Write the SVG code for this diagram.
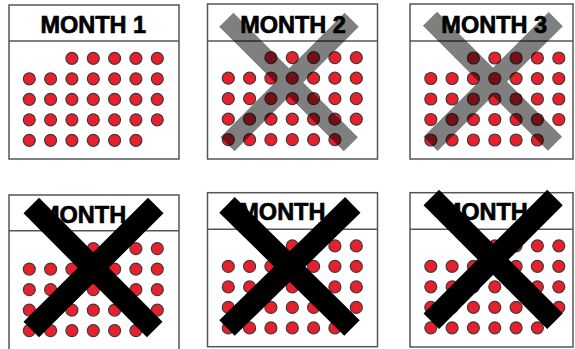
<svg xmlns="http://www.w3.org/2000/svg" xmlns:xlink="http://www.w3.org/1999/xlink" width="575" height="349" viewBox="0 0 575 349">
<style>
.box{fill:#fff;stroke:#555;stroke-width:1.5}
.hdr{stroke:#555;stroke-width:1.5;fill:none}
.ttl{font-family:"Liberation Sans",Arial,sans-serif;font-weight:bold;font-size:23.5px;fill:#000;stroke:#000;stroke-width:0.7}
.dot{fill:#e8202d;stroke:#3c3c3c;stroke-width:1.2}
.xg{stroke:#000;stroke-opacity:0.5;stroke-width:20;fill:none;stroke-linecap:butt}
.xb{stroke:#000;stroke-width:22;fill:none;stroke-linecap:butt}
</style>
<defs>
<g id="grid">
<circle class="dot" cx="42.6" cy="0" r="6"/><circle class="dot" cx="64" cy="0" r="6"/><circle class="dot" cx="85.3" cy="0" r="6"/><circle class="dot" cx="106.6" cy="0" r="6"/><circle class="dot" cx="128" cy="0" r="6"/>
<circle class="dot" cx="0" cy="20.5" r="6"/><circle class="dot" cx="21.3" cy="20.5" r="6"/><circle class="dot" cx="42.6" cy="20.5" r="6"/><circle class="dot" cx="64" cy="20.5" r="6"/><circle class="dot" cx="85.3" cy="20.5" r="6"/><circle class="dot" cx="106.6" cy="20.5" r="6"/><circle class="dot" cx="128" cy="20.5" r="6"/>
<circle class="dot" cx="0" cy="41" r="6"/><circle class="dot" cx="21.3" cy="41" r="6"/><circle class="dot" cx="42.6" cy="41" r="6"/><circle class="dot" cx="64" cy="41" r="6"/><circle class="dot" cx="85.3" cy="41" r="6"/><circle class="dot" cx="106.6" cy="41" r="6"/><circle class="dot" cx="128" cy="41" r="6"/>
<circle class="dot" cx="0" cy="61.5" r="6"/><circle class="dot" cx="21.3" cy="61.5" r="6"/><circle class="dot" cx="42.6" cy="61.5" r="6"/><circle class="dot" cx="64" cy="61.5" r="6"/><circle class="dot" cx="85.3" cy="61.5" r="6"/><circle class="dot" cx="106.6" cy="61.5" r="6"/><circle class="dot" cx="128" cy="61.5" r="6"/>
<circle class="dot" cx="0" cy="82" r="6"/><circle class="dot" cx="21.3" cy="82" r="6"/><circle class="dot" cx="42.6" cy="82" r="6"/><circle class="dot" cx="64" cy="82" r="6"/><circle class="dot" cx="85.3" cy="82" r="6"/><circle class="dot" cx="106.6" cy="82" r="6"/>
</g>
</defs>
<rect width="575" height="349" fill="#fff"/>
<g id="month1">
<rect class="box" x="9" y="5" width="170" height="154"/>
<line class="hdr" x1="9" y1="41" x2="179" y2="41"/>
<text class="ttl" x="93.3" y="33.3" text-anchor="middle">MONTH 1</text>
<use xlink:href="#grid" transform="translate(29.3,58.3)"/>
</g>
<g id="month2">
<rect class="box" x="207.5" y="4" width="170" height="155"/>
<line class="hdr" x1="207.5" y1="41" x2="377.5" y2="41"/>
<text class="ttl" x="293" y="33.3" text-anchor="middle">MONTH 2</text>
<use xlink:href="#grid" transform="translate(228.3,57.7)"/>
<path class="xg" d="M226.3,19.7 L350.8,144.2 M351.7,19.7 L227.5,144.2"/>
</g>
<g id="month3">
<rect class="box" x="410" y="4" width="163" height="155"/>
<line class="hdr" x1="410" y1="41" x2="573" y2="41"/>
<text class="ttl" x="494.2" y="33.3" text-anchor="middle">MONTH 3</text>
<use xlink:href="#grid" transform="translate(430.8,58)"/>
<path class="xg" d="M430,18.8 L555,143.8 M555.8,19.2 L430.5,143.8"/>
</g>
<g id="month4">
<rect class="box" x="9" y="195" width="170" height="170"/>
<line class="hdr" x1="9" y1="230.7" x2="179" y2="230.7"/>
<text class="ttl" x="40" y="222.7">MONTH</text>
<use xlink:href="#grid" transform="translate(29.3,248.6)"/>
<path class="xb" d="M31.3,205.5 L154.7,329.5 M155.8,205.5 L31.3,329.5"/>
</g>
<g id="month5">
<rect class="box" x="207.5" y="192.7" width="170" height="154"/>
<line class="hdr" x1="207.5" y1="229.3" x2="377.5" y2="229.3"/>
<text class="ttl" x="239.3" y="219.5">MONTH</text>
<use xlink:href="#grid" transform="translate(228.3,245.9)"/>
<path class="xb" d="M227,204.8 L352,328 M352.8,204.8 L227,328"/>
</g>
<g id="month6">
<rect class="box" x="410" y="192.7" width="163" height="154.3"/>
<line class="hdr" x1="410" y1="229.3" x2="573" y2="229.3"/>
<text class="ttl" x="441.7" y="220">MONTH</text>
<use xlink:href="#grid" transform="translate(430.8,245.8)"/>
<path class="xb" d="M431.3,197.5 L555,321.3 M555,197.5 L431.3,321.3"/>
</g>
</svg>
